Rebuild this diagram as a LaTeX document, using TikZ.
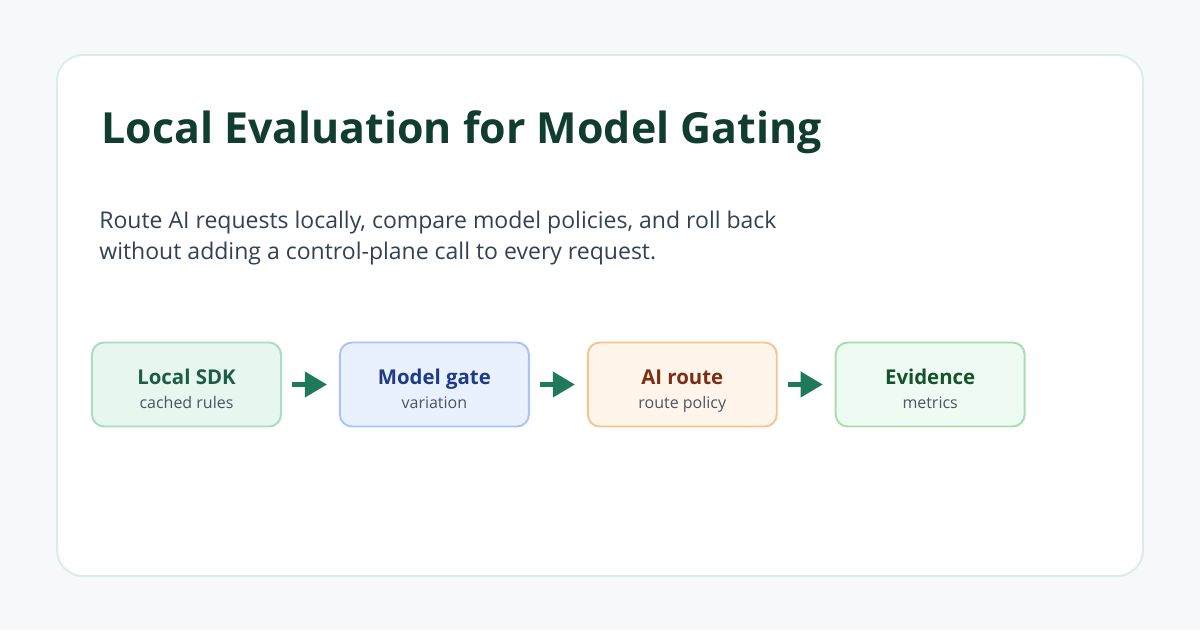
\documentclass[tikz,border=0pt]{standalone}
\usepackage{fontspec}
\setmainfont{Open Sans}
\usetikzlibrary{arrows.meta, positioning}
\definecolor{pagebg}{HTML}{F6F8FA}
\definecolor{cardline}{HTML}{D6F0E7}
\definecolor{titlegreen}{HTML}{113D31}
\definecolor{bodyslate}{HTML}{334155}
\definecolor{subgray}{HTML}{4B5563}
\definecolor{arrowgreen}{HTML}{1F7A5C}
\definecolor{sdkfill}{HTML}{E7F6EF}
\definecolor{sdkline}{HTML}{A8DCC4}
\definecolor{sdktext}{HTML}{1B5E47}
\definecolor{gatefill}{HTML}{EAF1FE}
\definecolor{gateline}{HTML}{A8C3F6}
\definecolor{gatetext}{HTML}{1E3A8A}
\definecolor{routefill}{HTML}{FFF5EB}
\definecolor{routeline}{HTML}{F7C38E}
\definecolor{routetext}{HTML}{7C2D12}
\definecolor{evidfill}{HTML}{EEFBF2}
\definecolor{evidline}{HTML}{A3DDB0}
\definecolor{evidtext}{HTML}{14532D}

\begin{document}
\begin{tikzpicture}[x=0.02cm, y=-0.02cm,
  stage/.style={draw, line width=1.1pt, rounded corners=0.24cm, minimum width=3.78cm, minimum height=1.68cm, inner sep=0pt},
  head/.style={anchor=base, inner sep=0pt, font=\bfseries\fontsize{11.6}{14}\selectfont},
  sub/.style={anchor=base, inner sep=0pt, text=subgray, font=\fontsize{9.1}{11}\selectfont},
  flow/.style={draw=arrowgreen, line width=2.3pt, -{Triangle[length=0.44cm, width=0.5cm]}, shorten <=0.2cm, shorten >=0.24cm}]
 \fill[pagebg] (0,0) rectangle (1200,630);
 \draw[cardline, fill=white, line width=1.1pt, rounded corners=0.52cm] (57,55) rectangle (1143,576);
 \node[anchor=base west, inner sep=0pt, text=titlegreen, font=\bfseries\fontsize{24.4}{30}\selectfont] (title) at (101,143) {Local Evaluation for Model Gating};
 \node[anchor=base west, inner sep=0pt, text=bodyslate, font=\fontsize{13.1}{16}\selectfont] (blurb1) at (99,228) {Route AI requests locally, compare model policies, and roll back};
 \node[anchor=base west, inner sep=0pt, text=bodyslate, font=\fontsize{13.1}{16}\selectfont] (blurb2) at (99,259) {without adding a control-plane call to every request.};

 % pipeline
 \node[stage, fill=sdkfill, draw=sdkline] (sdk) at (186.5,384.5) {};
 \node[stage, fill=gatefill, draw=gateline, right=1.14cm of sdk] (gate) {};
 \node[stage, fill=routefill, draw=routeline, right=1.14cm of gate] (route) {};
 \node[stage, fill=evidfill, draw=evidline, right=1.14cm of route] (evid) {};
 \foreach \n/\c/\t/\s in {sdk/sdktext/Local SDK/cached rules, gate/gatetext/Model gate/variation, route/routetext/AI route/route policy, evid/evidtext/Evidence/metrics}{
   \node[head, text=\c] (\n-head) at ([yshift=0.01cm]\n.center) {\t};
   \node[sub] (\n-sub) at ([yshift=-0.47cm]\n.center) {\s};
 }
 \foreach \a/\b in {sdk/gate, gate/route, route/evid}
   \draw[flow] (\a) -- (\b);
\end{tikzpicture}
\end{document}
